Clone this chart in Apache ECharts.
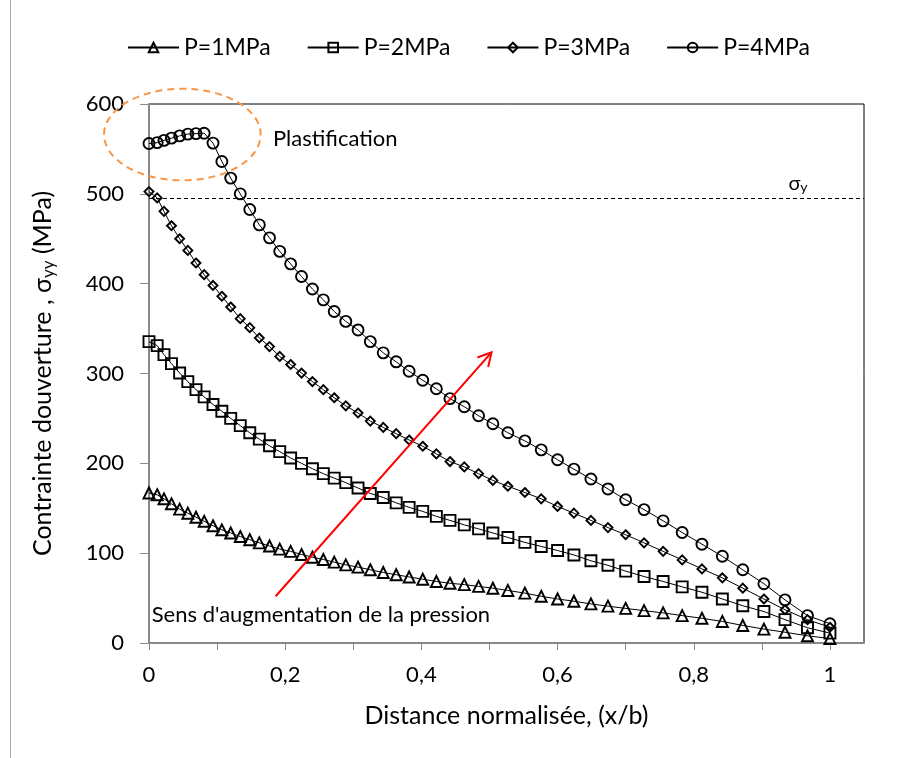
<!DOCTYPE html>
<html>
<head>
<meta charset="utf-8">
<script src="https://cdn.jsdelivr.net/npm/echarts@6/dist/echarts.min.js"></script>
<style>
  html, body { margin: 0; padding: 0; background: #fff; }
  #chart { width: 902px; height: 758px; }
</style>
</head>
<body>
<div id="chart"></div>
<script>
// Normalised distance x/b of the computation nodes
const xPos = [0, 0.012, 0.022, 0.033, 0.045, 0.057, 0.069, 0.081, 0.094, 0.107,
  0.120, 0.134, 0.148, 0.162, 0.177, 0.192, 0.208, 0.224, 0.240, 0.256,
  0.272, 0.289, 0.307, 0.325, 0.344, 0.363, 0.382, 0.402, 0.422, 0.442,
  0.463, 0.484, 0.505, 0.527, 0.552, 0.576, 0.600, 0.624, 0.649, 0.674,
  0.700, 0.727, 0.755, 0.783, 0.812, 0.842, 0.872, 0.903, 0.934, 0.967, 1.0];

// Opening stress sigma_yy (MPa) for each applied pressure
const stressP1 = [167, 165, 160.5, 155, 149, 144.5, 140, 135.5, 130.5, 126,
  122.5, 118.5, 115, 111.5, 108, 104.5, 102, 98.5, 95.5, 93,
  90, 87, 84.5, 81.5, 78.5, 76, 73.5, 71, 68.5, 66.5,
  65, 63, 61, 58.5, 55.5, 52, 49, 46.5, 43.5, 41,
  38.5, 36, 33.5, 30.5, 27.5, 24, 19.5, 15.5, 12, 8, 5];
const stressP2 = [335.5, 331, 321, 311, 300.5, 291, 282, 274, 265.5, 258,
  250, 242, 234, 227, 219.5, 213, 206, 200, 194, 188.5,
  183.5, 178.5, 172.5, 166.5, 162, 156, 151, 146.5, 141, 136.5,
  131.5, 127, 122.5, 117.5, 112, 107.5, 103, 98, 91.5, 86.5,
  80, 74, 68.5, 62.5, 56.5, 49, 41.5, 35, 26, 17, 11];
const stressP3 = [502.5, 495.5, 480.5, 464.5, 450, 437, 423, 410, 398, 386,
  374, 361, 351, 339.5, 330, 319, 310, 300.5, 291, 282,
  273, 264, 256, 247, 240, 233, 226, 219, 210.5, 202,
  196, 188.5, 181, 174.5, 167.5, 160.5, 152, 144.5, 136.5, 128.5,
  120.5, 111.5, 102, 92.5, 82.5, 72.5, 61, 49, 37, 26, 17.5];
const stressP4 = [556, 557, 559.5, 562, 564.5, 566.5, 567, 567.5, 556.5, 536,
  517.5, 500, 482.5, 465.5, 451, 436, 422, 408, 394, 382,
  369, 358, 348.5, 335.5, 323, 313, 302.5, 292.5, 283, 272,
  263, 253, 244, 234, 225, 215, 204, 193.5, 182.5, 171.5,
  159.5, 148.5, 136, 123, 110, 96.5, 81.5, 66, 48, 30.5, 21.5];

const seriesNames = ['P=1MPa', 'P=2MPa', 'P=3MPa', 'P=4MPa'];
const seriesValues = [stressP1, stressP2, stressP3, stressP4];

// Axis ticks and labels
const xTickValues = [0, 0.1, 0.2, 0.3, 0.4, 0.5, 0.6, 0.7, 0.8, 0.9, 1];
const xLabelValues = [0, 0.2, 0.4, 0.6, 0.8, 1];
const yieldStress = 495; // sigma_y

const FONT = 'Lato, "Open Sans", sans-serif';
const markerShapes = ['triangle', 'rect', 'diamond', 'circle'];
const markerSizes = [11, 11, 9, 11];

const chart = echarts.init(document.getElementById('chart'), null, { renderer: 'canvas' });

const series = seriesNames.map((name, k) => ({
  name: name,
  type: 'line',
  data: xPos.map((x, i) => [x, seriesValues[k][i]]),
  symbol: markerShapes[k],
  symbolSize: markerSizes[k],
  showAllSymbol: true,
  lineStyle: { color: '#000', width: 1 },
  itemStyle: { color: 'rgba(255,255,255,0)', borderColor: '#000', borderWidth: 1.9 },
  emphasis: { disabled: true },
  z: 3 + k,
  markLine: k === 3 ? {
    silent: true,
    symbol: 'none',
    label: { show: false },
    lineStyle: { color: '#000', width: 1, type: [4, 3] },
    data: [{ yAxis: yieldStress }]
  } : undefined
}));

chart.setOption({
  animation: false,
  backgroundColor: '#fff',
  textStyle: { fontFamily: FONT, color: '#000' },
  legend: {
    top: 36,
    left: 127,
    padding: 0,
    itemWidth: 51,
    itemHeight: 12,
    itemGap: 36,
    textStyle: { fontFamily: FONT, fontSize: 23, color: '#000' },
    data: seriesNames
  },
  grid: {
    left: 149, right: 38, top: 104, bottom: 115,
    show: true, borderColor: '#000', borderWidth: 1
  },
  xAxis: {
    type: 'value',
    min: 0, max: 1.05,
    interval: 0.1,
    name: 'Distance normalisée, (x/b)',
    nameLocation: 'middle',
    nameGap: 60,
    nameTextStyle: { fontFamily: FONT, fontSize: 25, color: '#000' },
    splitLine: { show: false },
    axisLine: { lineStyle: { color: '#898989', width: 2 } },
    axisTick: { show: true, length: 7, customValues: xTickValues, lineStyle: { color: '#898989', width: 1 } },
    axisLabel: {
      customValues: xLabelValues,
      margin: 21,
      fontFamily: FONT, fontSize: 22, color: '#000',
      formatter: v => String(Math.round(v * 10) / 10).replace('.', ',')
    }
  },
  yAxis: {
    type: 'value',
    min: 0, max: 600, interval: 100,
    name: '{t|Contrainte douverture , σ}{s|yy}{t| (MPa)}',
    nameLocation: 'middle',
    nameGap: 90,
    nameRotate: 90,
    nameTextStyle: {
      fontFamily: FONT, color: '#000',
      rich: {
        t: { fontFamily: FONT, fontSize: 25, lineHeight: 32, color: '#000' },
        s: { fontFamily: FONT, fontSize: 17, lineHeight: 20, padding: [12, 0, 0, 0], color: '#000' }
      }
    },
    splitLine: { show: false },
    axisLine: { show: true, lineStyle: { color: '#898989', width: 2 } },
    axisTick: { show: true, length: 9, lineStyle: { color: '#898989', width: 1 } },
    axisLabel: { margin: 25, fontFamily: FONT, fontSize: 22, color: '#000' }
  },
  series: series
});

// Annotations placed in data coordinates
const plastZone = { x: 0.049, y: 566, rx: 0.115, ry: 51 };
const arrowFrom = [0.186, 52];
const arrowTo = [0.503, 323.5];
const plastLabelAt = [0.182, 561];
const pressureLabelAt = [0.004, 31.5];
const sigmaLabelAt = [0.939, 512];

function drawAnnotations() {
  const px = (x, y) => chart.convertToPixel({ gridIndex: 0 }, [x, y]);
  const c = px(plastZone.x, plastZone.y);
  const e = px(plastZone.x + plastZone.rx, plastZone.y + plastZone.ry);
  const a0 = px(arrowFrom[0], arrowFrom[1]);
  const a1 = px(arrowTo[0], arrowTo[1]);
  const ang = Math.atan2(a1[1] - a0[1], a1[0] - a0[0]);
  const headLen = 15, spread = 0.5;
  const w1 = [a1[0] - headLen * Math.cos(ang - spread), a1[1] - headLen * Math.sin(ang - spread)];
  const w2 = [a1[0] - headLen * Math.cos(ang + spread), a1[1] - headLen * Math.sin(ang + spread)];
  const pl = px(plastLabelAt[0], plastLabelAt[1]);
  const pr = px(pressureLabelAt[0], pressureLabelAt[1]);
  const sg = px(sigmaLabelAt[0], sigmaLabelAt[1]);

  chart.setOption({
    graphic: [
      { type: 'line', silent: true, shape: { x1: 10.5, y1: 0, x2: 10.5, y2: 758 },
        style: { stroke: '#a6a6a6', lineWidth: 1 } },
      { type: 'ellipse', silent: true, z: 10,
        shape: { cx: c[0], cy: c[1], rx: e[0] - c[0], ry: c[1] - e[1] },
        style: { fill: 'none', stroke: '#F79646', lineWidth: 2, lineDash: [7, 5] } },
      { type: 'line', silent: true, z: 10,
        shape: { x1: a0[0], y1: a0[1], x2: a1[0], y2: a1[1] },
        style: { stroke: '#FF0000', lineWidth: 2 } },
      { type: 'polyline', silent: true, z: 10,
        shape: { points: [w1, a1, w2] },
        style: { fill: 'none', stroke: '#FF0000', lineWidth: 2 } },
      { type: 'text', silent: true, z: 10, x: pl[0], y: pl[1],
        style: { text: 'Plastification', font: '22px ' + FONT, fill: '#000', verticalAlign: 'middle' } },
      { type: 'text', silent: true, z: 10, x: pr[0], y: pr[1],
        style: { text: "Sens d'augmentation de la pression", font: '22px ' + FONT, fill: '#000', verticalAlign: 'middle' } },
      { type: 'text', silent: true, z: 10, x: sg[0], y: sg[1],
        style: {
          text: '{a|σ}{b|y}', verticalAlign: 'middle',
          rich: {
            a: { fontFamily: FONT, fontSize: 20, lineHeight: 24, fill: '#000' },
            b: { fontFamily: FONT, fontSize: 14, lineHeight: 16, padding: [8, 0, 0, 0], fill: '#000' }
          }
        } }
    ]
  });
}
drawAnnotations();
</script>
</body>
</html>
